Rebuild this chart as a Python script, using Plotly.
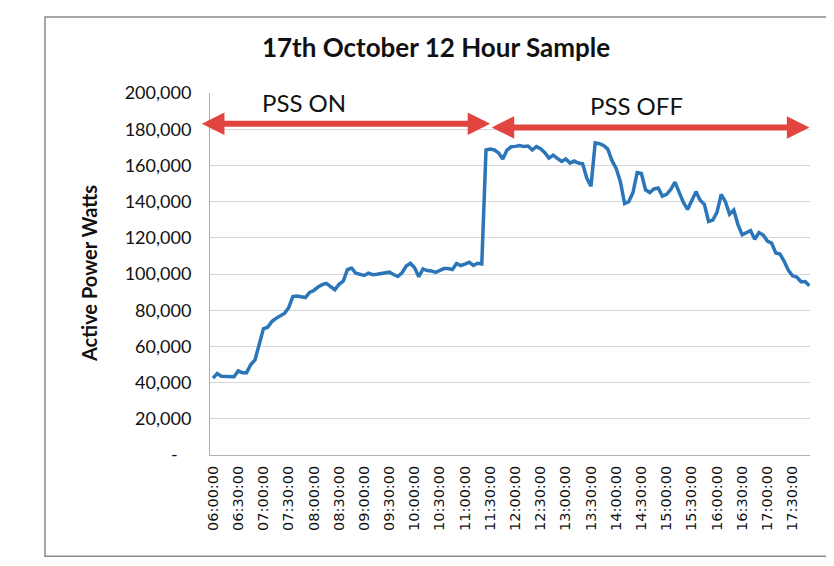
import plotly.graph_objects as go

# ---- data ----
start_hour = 6
step_minutes = 5
active_power_w = [
    42500, 45000, 43500, 43300, 43500, 43200, 46500, 45500, 45500, 50000,
    52500, 60500, 69700, 70600, 73700, 75500, 76900, 78200, 81300, 87500,
    87800, 87500, 87000, 89800, 90900, 92800, 94100, 94800, 93300, 91300,
    94300, 96000, 102400, 103300, 100400, 99800, 99200, 100500, 99600, 99900,
    100300, 100600, 101000, 99700, 98600, 100600, 104400, 105900, 103500, 98500,
    102800, 101900, 101700, 100900, 101800, 103000, 103000, 102500, 105800, 104700,
    105500, 106500, 104700, 105900, 105500, 168500, 169000, 168500, 166900, 163500,
    168500, 170300, 170500, 171000, 170400, 170700, 168500, 170400, 169200, 167000,
    164000, 165700, 163900, 162200, 163600, 161300, 162400, 161300, 160900, 153000,
    148500, 172500, 172000, 171000, 169000, 162600, 158300, 151000, 139000, 140000,
    145000, 156000, 155500, 146500, 145000, 147000, 147500, 143000, 144000, 146700,
    150800, 144800, 139500, 135700, 140600, 145500, 140800, 138500, 129000, 129800,
    134000, 144000, 140000, 133000, 135300, 127300, 121600, 123000, 124000, 119200,
    122900, 121500, 118200, 117100, 111600, 111000, 107000, 102000, 99000, 98300,
    95700, 95800, 93500,
]
times = []
for k in range(len(active_power_w)):
    m = start_hour * 60 + k * step_minutes
    times.append(f"2017-10-17 {m // 60:02d}:{m % 60:02d}:00")

y_tick_vals = [0, 20000, 40000, 60000, 80000, 100000, 120000, 140000, 160000, 180000, 200000]
y_tick_text = ["-\u00a0\u00a0\u00a0", "20,000", "40,000", "60,000", "80,000", "100,000",
               "120,000", "140,000", "160,000", "180,000", "200,000"]

title_text = "17th October 12 Hour Sample"
y_title = "Active Power Watts"
phase_labels = ["PSS ON", "PSS OFF"]
phase_starts = ["2017-10-17 05:45:00", "2017-10-17 11:30:00"]
phase_ends = ["2017-10-17 11:30:00", "2017-10-17 17:50:00"]
phase_arrow_y = [183000, 181000]
phase_label_x = ["2017-10-17 07:48:00", "2017-10-17 14:24:00"]
phase_label_y = [195000, 193000]

RED = "#e2453f"
BLUE = "#2a76b8"

fig = go.Figure()
fig.add_trace(go.Scatter(
    x=times, y=active_power_w, mode="lines",
    line=dict(color=BLUE, width=3.5), showlegend=False,
))

# arrows marking PSS periods
for s, e, yv in zip(phase_starts, phase_ends, phase_arrow_y):
    fig.add_annotation(
        x=e, y=yv, ax=s, ay=yv, xref="x", yref="y", axref="x", ayref="y",
        text="", showarrow=True, arrowhead=2, arrowside="end+start",
        arrowsize=0.75, arrowwidth=6, arrowcolor=RED,
    )
for lx, ly, t in zip(phase_label_x, phase_label_y, phase_labels):
    fig.add_annotation(
        x=lx, y=ly, xref="x", yref="y", text=t, showarrow=False,
        font=dict(family="Lato, sans-serif", size=24, color="#111111"),
    )

# y-axis title
fig.add_annotation(
    x=-0.225, y=0.5, xref="paper", yref="paper", text=f"<b>{y_title}</b>",
    textangle=-90, showarrow=False,
    font=dict(family="Lato, sans-serif", size=20, color="#111111"),
)

# outer frame of the scanned chart
fig.add_shape(type="rect", xref="paper", yref="paper",
              x0=-0.275, x1=1.033, y0=-0.28, y1=1.21,
              line=dict(color="#8a8a8a", width=1.5), layer="below")

W, H = 826, 558
fig.update_layout(
    width=W, height=H,
    margin=dict(l=202, r=24, t=85, b=111),
    paper_bgcolor="white", plot_bgcolor="white",
    title=dict(text=f"<b>{title_text}</b>", x=428 / W, xref="container", xanchor="center",
               y=1 - 40 / H, yref="container", yanchor="middle",
               font=dict(family="Lato, sans-serif", size=26, color="#111111")),
    showlegend=False,
)
fig.update_xaxes(
    type="date", range=["2017-10-17 05:56:25", "2017-10-17 17:50:45"],
    dtick=1800000, tick0="2017-10-17 06:00:00", tickformat="%H:%M:%S",
    tickangle=-90, showgrid=False, showline=True, linecolor="#b0b0b0", linewidth=1,
    ticks="", ticklabelstandoff=4,
    tickfont=dict(family="DejaVu Sans, sans-serif", size=14.5, color="#111111"),
)
fig.update_yaxes(
    range=[0, 200000], tickvals=y_tick_vals, ticktext=y_tick_text,
    showgrid=True, gridcolor="#d6d6d6", gridwidth=1,
    showline=True, linecolor="#b0b0b0", linewidth=1, zeroline=False,
    ticks="", ticklabelstandoff=14,
    tickfont=dict(family="Lato, sans-serif", size=18, color="#111111"),
)

fig.write_html("out.html")
